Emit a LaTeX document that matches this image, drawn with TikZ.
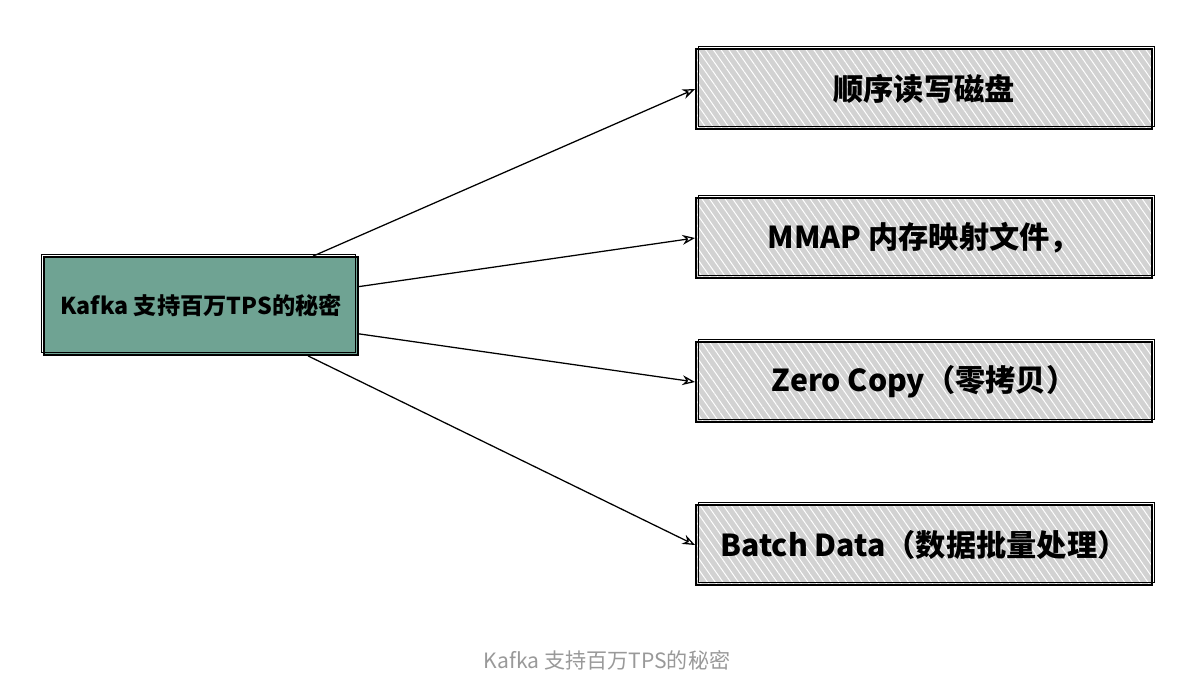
\documentclass[tikz,border=0pt]{standalone}
\usepackage{fontspec}
\setmainfont{Noto Sans CJK SC}
\usetikzlibrary{arrows.meta,patterns.meta}
\definecolor{boxgray}{HTML}{D2D2D2}
\definecolor{coregreen}{HTML}{6FA393}
\definecolor{capgray}{HTML}{999999}
\tikzset{
    sketchbox/.style={draw=black, line width=1.3pt, minimum width=11.4cm, minimum height=2cm,
        preaction={fill=boxgray}, preaction={pattern={Lines[angle=-55,distance=4.5pt,line width=0.7pt]}, pattern color=white},
        postaction={draw, line width=0.7pt, transform canvas={shift={(1.5pt,1.8pt)}}},
        font=\bfseries\fontsize{21.5}{24}\selectfont},
    corebox/.style={draw=black, line width=1.3pt, fill=coregreen, minimum width=7.85cm, minimum height=2.45cm,
        postaction={draw, line width=0.7pt, transform canvas={shift={(-1.5pt,1.8pt)}}},
        font=\bfseries\fontsize{16.5}{19}\selectfont},
    link/.style={draw=black, line width=0.9pt, -{Stealth[open,length=9pt,width=7pt]}}
}
\begin{document}
\begin{tikzpicture}[x=0.025cm, y=-0.025cm]
    \useasboundingbox (0,0) rectangle (1180,697);
    \node[corebox] (core) at (201,306) {Kafka 支持百万TPS的秘密};
    \foreach \name/\ypos/\txt in {b1/89/{顺序读写磁盘}, b2/238/{MMAP 内存映射文件，}, b3/382/{Zero Copy（零拷贝）}, b4/545/{Batch Data（数据批量处理）}} {
        \node[sketchbox] (\name) at (924,\ypos) {\txt};
    }
    \foreach \name/\ang in {b1/24, b2/7.6, b3/-10.5, b4/-25} {
        \draw[link] (core.\ang) -- (\name.west);
    }
    \node[text=capgray, font=\fontsize{15}{18}\selectfont] (caption) at (607,660) {Kafka 支持百万TPS的秘密};
\end{tikzpicture}
\end{document}
